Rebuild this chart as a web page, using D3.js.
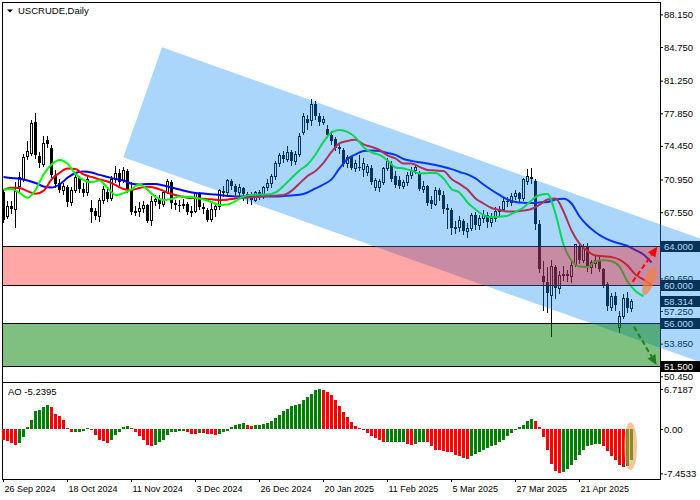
<!DOCTYPE html>
<html><head><meta charset="utf-8">
<script src="https://cdn.jsdelivr.net/npm/d3@7"></script>
<style>html,body{margin:0;padding:0;background:#fff;overflow:hidden}svg{display:block}</style>
</head><body>
<svg id="c" width="700" height="500"></svg>
<script>
// ---------- DATA ----------
const title = "USCRUDE,Daily";
const aoTitle = "AO -5.2395";
// daily candles [open, high, low, close], bar 0 = 26 Sep 2024
const candles = [
[69.60,69.90,66.50,66.70],[67.10,68.70,66.90,68.20],[68.20,68.70,67.50,67.90],[67.90,70.70,66.00,69.80],[70.30,71.70,69.60,71.20],
[71.00,73.60,70.80,73.30],[73.40,75.00,73.10,73.90],[73.70,77.20,73.50,76.80],[76.90,77.90,73.20,73.50],[73.40,73.80,72.30,72.70],
[72.60,75.45,72.40,74.75],[75.10,75.45,74.30,74.70],[74.20,74.50,71.20,71.40],[71.40,71.90,70.20,70.50],[70.60,71.00,69.70,69.90],
[69.90,70.60,69.40,70.30],[70.20,70.40,68.20,68.60],[68.60,70.20,68.30,69.90],[69.90,71.50,69.60,71.20],[71.10,71.30,69.60,70.00],
[70.00,70.60,69.20,69.50],[69.60,71.40,69.30,71.00],[68.00,68.80,66.50,67.60],[67.70,68.00,66.80,67.10],[67.20,69.00,66.60,68.80],
[68.80,70.30,68.50,70.00],[69.60,70.20,68.70,68.90],[69.00,71.30,68.80,71.00],[71.00,72.40,70.70,71.60],[71.60,72.00,70.20,70.70],
[70.90,72.30,70.70,71.90],[71.80,72.00,69.70,69.90],[69.90,70.70,67.40,67.60],[67.60,68.20,67.30,67.70],[67.70,68.60,67.10,68.00],
[68.00,68.70,67.60,68.25],[68.30,68.45,66.50,66.60],[66.70,69.20,66.20,68.70],[68.70,69.30,68.30,68.95],[68.90,69.30,68.00,68.40],
[68.40,69.80,68.20,69.65],[69.70,71.00,69.50,70.80],[70.70,70.90,68.00,68.50],[68.50,68.80,67.90,68.30],[68.30,68.80,67.70,68.25],
[68.30,68.90,68.00,68.45],[68.40,68.60,67.40,67.55],[67.60,68.20,67.20,67.65],[67.70,69.70,67.60,69.50],[69.50,69.70,67.90,68.10],
[68.10,68.50,67.50,67.85],[67.80,68.00,66.60,66.75],[66.80,68.50,66.60,67.90],[67.90,68.50,67.20,68.15],[68.20,70.00,67.90,69.85],
[69.80,70.30,69.20,69.55],[69.60,71.00,69.40,70.85],[70.80,71.00,70.00,70.25],[70.30,70.50,69.30,69.65],[69.60,70.50,69.30,70.15],
[70.10,70.20,68.80,69.45],[69.40,69.60,68.50,69.00],[69.00,69.60,68.40,68.80],[68.80,69.80,68.70,69.65],[69.60,69.90,68.90,69.20],
[69.20,70.30,69.00,70.15],[70.20,71.00,69.90,70.55],[70.60,71.50,70.20,71.30],[71.30,72.90,71.00,72.70],[72.70,73.70,72.40,73.50],
[73.50,73.90,72.80,73.10],[73.10,74.40,72.90,73.80],[73.80,74.00,72.50,72.90],[72.90,73.90,72.60,73.60],[73.60,75.80,73.40,75.50],
[75.90,77.90,75.70,77.60],[77.30,77.70,76.20,76.80],[77.10,79.30,76.60,78.85],[78.85,79.10,77.30,77.60],[77.60,77.90,76.60,76.90],
[76.90,77.60,76.70,77.30],[76.20,76.60,75.40,75.55],[75.60,76.00,74.60,75.00],[75.20,75.40,74.00,74.20],[74.20,74.70,73.70,74.30],
[74.00,74.20,72.40,72.60],[72.70,73.50,72.30,73.30],[73.30,73.40,72.00,72.20],[72.20,73.00,71.80,72.70],[72.30,73.50,71.90,72.10],
[72.00,73.20,71.30,72.70],[71.75,72.60,71.40,72.40],[72.20,72.50,70.50,70.70],[70.15,71.10,69.90,70.85],[70.20,71.00,69.80,70.80],
[70.70,72.30,70.50,72.10],[72.10,73.20,71.90,72.90],[72.60,72.90,70.80,71.00],[71.35,71.80,70.20,70.35],[70.90,71.30,70.10,70.30],
[70.30,70.90,70.10,70.70],[70.70,71.70,70.40,71.40],[71.40,72.30,71.10,71.90],[71.90,72.60,71.60,72.30],[71.60,71.80,69.90,70.00],
[70.00,70.80,69.60,70.30],[70.30,70.40,68.30,68.50],[68.80,69.20,68.00,68.40],[68.40,70.20,68.30,69.90],[69.90,70.10,68.80,69.30],
[69.35,69.75,67.45,67.90],[67.95,68.35,65.85,67.80],[67.80,68.00,65.30,65.90],[65.90,66.60,65.40,66.00],[66.00,67.10,65.60,66.70],
[66.60,66.80,65.30,65.60],[65.60,66.40,65.00,65.90],[65.90,67.50,65.70,67.30],[67.30,67.60,65.80,66.20],[66.20,67.30,65.80,66.90],
[66.90,67.80,66.50,67.30],[67.30,67.60,66.00,66.50],[66.50,67.50,66.10,66.90],[66.90,68.10,66.60,67.70],[67.70,68.20,67.30,67.90],
[67.90,69.00,67.80,68.70],[68.70,69.10,68.20,68.60],[68.60,69.50,68.30,69.20],[69.20,69.90,68.90,69.50],[69.50,69.70,68.70,68.95],
[69.00,71.10,68.80,71.00],[70.80,72.00,70.50,71.30],[71.20,72.10,70.60,71.00],[70.80,71.00,65.80,66.30],[66.30,66.70,61.30,61.60],
[60.90,62.50,57.40,60.25],[60.30,61.80,57.20,59.10],[58.90,62.60,54.70,61.90],[61.80,62.00,58.60,59.60],[59.60,61.40,59.10,61.05],
[61.10,61.90,60.50,61.10],[61.10,61.50,60.40,60.90],[60.90,62.50,60.30,62.00],[62.10,64.20,61.90,64.20],[63.90,64.30,62.30,62.60],
[62.60,64.20,62.40,63.85],[63.90,64.30,61.40,61.80],[61.80,62.60,61.20,62.35],[62.30,63.00,61.80,62.55],[62.60,62.90,61.40,61.60],
[61.60,61.70,59.80,59.95],[60.10,60.30,57.40,57.75],[57.70,59.10,57.40,58.80],[58.80,59.20,57.40,57.85],[55.60,57.30,55.10,56.70],
[56.70,59.00,56.50,58.65],[58.60,59.20,57.10,57.60],[57.60,58.50,57.30,58.31]
];
// Alligator lines, one value every 2 bars (bar 0, 2, 4, ...)
const jaw = [71.22,71.11,71.03,70.85,70.59,70.23,70.12,70.43,71.13,71.63,71.79,71.69,71.43,71.22,71.01,70.85,70.51,70.43,70.49,70.49,
70.33,70.12,69.91,69.70,69.55,69.50,69.41,69.34,69.24,69.18,69.18,69.18,69.18,69.18,69.18,69.24,69.29,69.36,69.60,70.02,
70.43,70.96,72.10,73.09,73.56,73.93,73.98,73.93,73.72,73.51,73.09,72.89,72.75,72.62,72.47,72.26,72.03,71.74,71.48,71.06,
70.43,69.86,69.34,68.87,68.61,68.53,68.51,68.56,68.61,68.87,68.94,68.45,67.10,66.16,65.46,64.91,64.54,64.28,64.02,63.60,
63.13,62.30];
const teeth = [69.86,70.09,70.07,69.74,69.46,69.76,70.96,71.63,72.10,72.05,71.48,71.22,70.96,70.75,70.38,69.97,69.86,70.07,70.20,70.07,
69.76,69.44,69.24,69.06,69.02,68.95,68.89,68.80,68.85,68.96,69.04,69.10,69.16,69.24,69.27,69.34,69.76,70.54,71.32,71.84,
72.68,73.82,74.71,74.97,75.08,74.61,74.35,74.03,73.46,73.15,72.62,72.62,72.26,71.95,71.89,71.84,71.01,70.49,69.91,68.97,
68.45,67.98,67.78,67.62,67.62,67.72,67.88,68.30,68.87,68.97,67.62,65.64,64.28,63.50,63.03,62.96,62.87,62.61,61.99,61.05,
60.53,59.95];
const lips = [69.91,69.97,69.55,69.05,69.86,71.48,72.52,72.99,72.59,71.53,70.90,70.67,70.85,70.09,69.34,69.50,69.93,70.46,69.88,69.13,
68.82,68.92,69.18,69.13,69.06,68.87,68.61,68.30,68.35,68.71,69.18,69.34,69.39,69.39,69.60,70.28,71.11,71.89,72.52,73.56,
74.87,75.86,76.12,75.91,75.34,74.32,73.77,73.51,72.94,72.21,72.10,71.89,71.58,71.61,71.63,71.06,69.97,69.60,68.56,67.83,
67.25,67.02,67.07,67.18,67.57,68.04,68.77,69.34,69.44,67.38,64.18,62.51,61.88,61.83,62.44,62.53,62.43,61.88,60.32,59.33,
58.79];
// Awesome Oscillator, one value per bar
const ao = [-1.92,-2.07,-2.35,-2.74,-2.35,-1.34,0.28,1.57,2.97,3.25,
3.70,3.98,3.64,2.58,2.24,1.46,0.17,-0.56,-0.50,-0.45,
-0.39,0.17,-0.11,-1.01,-1.79,-2.07,-2.35,-1.79,-0.95,-0.45,
0.34,0.56,0.17,-0.56,-1.23,-1.90,-2.63,-2.91,-2.63,-2.24,
-1.79,-1.01,-0.50,-0.45,-0.42,-0.39,-0.56,-0.84,-0.86,-0.67,
-0.73,-0.84,-0.86,-1.00,-0.90,-0.56,-0.28,0.28,0.73,0.90,
0.93,0.67,0.56,0.62,0.67,0.78,1.01,1.29,1.85,2.41,
2.97,3.42,3.92,3.95,4.20,4.82,5.38,5.94,6.55,6.72,
6.61,6.22,5.71,4.93,3.92,2.86,2.02,1.18,0.45,0.11,
-0.22,-0.67,-1.12,-1.51,-1.90,-2.24,-2.22,-2.20,-2.18,-2.16,
-2.14,-2.45,-2.69,-2.46,-2.13,-2.11,-2.24,-2.80,-3.47,-3.59,
-3.70,-3.87,-3.89,-4.31,-4.48,-4.87,-4.99,-4.59,-4.15,-3.92,
-3.59,-3.25,-2.91,-2.69,-2.24,-1.79,-1.23,-0.67,-0.22,0.28,
0.73,1.29,1.74,1.29,0.34,-1.34,-3.59,-5.83,-7.10,-7.45,
-7.30,-6.72,-5.99,-5.26,-4.31,-3.47,-2.91,-2.63,-2.60,-2.58,
-2.91,-3.76,-4.59,-5.15,-5.99,-6.39,-6.20,-5.24];
const dateTickBars = [0,16,32,48,64,80,96,112,128,144];
const dateTickLabels = ["26 Sep 2024","18 Oct 2024","11 Nov 2024","3 Dec 2024","26 Dec 2024","20 Jan 2025","11 Feb 2025","5 Mar 2025","27 Mar 2025","21 Apr 2025"];
const priceTicks = [88.15,84.75,81.25,77.85,74.45,70.95,67.55,60.65,57.25,53.85,50.45];
const aoTicks = [6.7187,0,-7.4533];
const aoTickLabels = ["6.7187","0.00","-7.4533"];
const resistanceZone = [64.0,60.0];
const supportZone = [56.0,51.5];
const tagPrices = [64.0,60.0,58.314,56.0,51.5];
const tagLabels = ["64.000","60.000","58.314","56.000","51.500"];
// descending channel corners [bar, price]
const channel = [[39.75,84.72],[190,62.47],[190,49.60],[30.08,73.28]];
const upArrow = [[157.4,60.30],[163.6,63.95]];
const downArrow = [[157.75,55.61],[163.4,51.63]];
const focusPrice = [161.6,60.38];
const focusAO = [156.75,-2.9];

// ---------- DRAW ----------
const FONT = "Liberation Sans, Arial, sans-serif";
const svg = d3.select("#c");
const plotL = 2, plotR = 660, mainT = 2, mainB = 380, aoT = 382, aoB = 479;
const x = d3.scaleLinear().domain([0,1]).range([3,7]);
const y = d3.scaleLinear().domain([50.45,88.15]).range([376.3,14.4]);
const ya = d3.scaleLinear().domain([-7.4533,6.7187]).range([473.3,389]);

svg.append("rect").attr("width",700).attr("height",500).attr("fill","#fff");
const defs = svg.append("defs");
defs.append("clipPath").attr("id","cm").append("rect")
  .attr("x",plotL+1).attr("y",mainT+1).attr("width",plotR-plotL-1).attr("height",mainB-mainT-1);

// candles
const gC = svg.append("g").attr("clip-path","url(#cm)").attr("shape-rendering","crispEdges");
const R = v => Math.round(v);
gC.selectAll("line.w").data(candles).join("line")
  .attr("x1",(d,i)=>x(i)+0.5).attr("x2",(d,i)=>x(i)+0.5)
  .attr("y1",d=>R(y(d[1]))).attr("y2",d=>R(y(d[2]))+1)
  .attr("stroke","#000").attr("stroke-width",1);
gC.selectAll("rect.b").data(candles).join("rect")
  .attr("x",(d,i)=> d[3]>=d[0] ? x(i)-0.5 : x(i)-1)
  .attr("y",d=> d[3]>=d[0] ? R(y(d[3]))+0.5 : R(y(d[0])))
  .attr("width",d=> d[3]>=d[0] ? 2 : 3)
  .attr("height",d=> d[3]>=d[0] ? Math.max(1,R(y(d[0]))-R(y(d[3]))) : Math.max(1,R(y(d[3]))-R(y(d[0]))))
  .attr("fill",d=> d[3]>=d[0] ? "#fff" : "#000")
  .attr("stroke",d=> d[3]>=d[0] ? "#000" : "none").attr("stroke-width",1);

// alligator
const gL = svg.append("g").attr("clip-path","url(#cm)");
const lg = d3.line().x((d,k)=>x(2*k)+0.5).y(d=>y(d)).curve(d3.curveMonotoneX);
[[jaw,"#0000ff"],[teeth,"#ff0000"],[lips,"#00ff00"]].forEach(([s,c])=>{
  gL.append("path").attr("d",lg(s)).attr("fill","none").attr("stroke",c).attr("stroke-width",2);
});

// frame
const gF = svg.append("g").attr("stroke","#000").attr("stroke-width",1).attr("shape-rendering","crispEdges");
gF.append("line").attr("x1",plotL).attr("x2",plotR).attr("y1",mainT+0.5).attr("y2",mainT+0.5);
gF.append("line").attr("x1",plotL+0.5).attr("x2",plotL+0.5).attr("y1",mainT).attr("y2",aoB+1);
gF.append("line").attr("x1",plotR+0.5).attr("x2",plotR+0.5).attr("y1",mainT).attr("y2",aoB+1);
gF.append("line").attr("x1",plotL).attr("x2",plotR).attr("y1",aoT+0.5).attr("y2",aoT+0.5);
gF.append("line").attr("x1",plotL).attr("x2",plotR+1).attr("y1",aoB+0.5).attr("y2",aoB+0.5);

// price axis
const ax = svg.append("g").attr("transform",`translate(${plotR},0)`)
  .call(d3.axisRight(y).tickValues(priceTicks).tickFormat(d3.format(".3f")).tickSize(3).tickPadding(1));
ax.select(".domain").remove();
ax.selectAll("text").attr("font-family",FONT).attr("font-size","9.5px").attr("fill","#000");
ax.selectAll("line").attr("stroke","#000");

// AO axis
const aax = svg.append("g").attr("transform",`translate(${plotR},0)`)
  .call(d3.axisRight(ya).tickValues(aoTicks).tickFormat((d,k)=>aoTickLabels[k]).tickSize(3).tickPadding(1));
aax.select(".domain").remove();
aax.selectAll("text").attr("font-family",FONT).attr("font-size","9.5px").attr("fill","#000");

// date axis
const dax = svg.append("g").attr("transform",`translate(0,${aoB})`)
  .call(d3.axisBottom(x).tickValues(dateTickBars).tickFormat((d,k)=>dateTickLabels[k]).tickSize(3));
dax.select(".domain").remove();
dax.selectAll("text").attr("font-family",FONT).attr("font-size","9px").attr("fill","#000")
  .attr("text-anchor","start").attr("x",1).attr("dy",null).attr("y",12.5);

// zone borders
const zoneEdges = resistanceZone.concat(supportZone);
svg.append("g").attr("shape-rendering","crispEdges").selectAll("line").data(zoneEdges).join("line")
  .attr("x1",plotL).attr("x2",plotR).attr("y1",d=>R(y(d))+0.5).attr("y2",d=>R(y(d))+0.5)
  .attr("stroke","#000").attr("stroke-width",1);

// price tags
const gT = svg.append("g");
gT.selectAll("rect").data(tagPrices).join("rect")
  .attr("x",plotR+1).attr("y",d=>R(y(d))-5).attr("width",40).attr("height",11).attr("fill","#000");
gT.selectAll("text").data(tagPrices).join("text")
  .attr("x",plotR+4).attr("y",d=>R(y(d))+4).text((d,k)=>tagLabels[k])
  .attr("font-family",FONT).attr("font-size","9.5px").attr("fill","#fff");

// channel overlay
const chPts = channel.map(c=>[x(c[0]),y(c[1])]);
svg.append("path").attr("d",d3.line()(chPts)+"Z")
  .attr("fill","rgb(20,140,245)").attr("fill-opacity",0.36);

// zone fills
svg.append("rect").attr("x",plotL+1).attr("width",plotR-plotL-1)
  .attr("y",R(y(resistanceZone[0]))+1).attr("height",R(y(resistanceZone[1]))-R(y(resistanceZone[0]))-1)
  .attr("fill","rgb(255,0,0)").attr("fill-opacity",0.35);
svg.append("rect").attr("x",plotL+1).attr("width",plotR-plotL-1)
  .attr("y",R(y(supportZone[0]))+1).attr("height",R(y(supportZone[1]))-R(y(supportZone[0]))-1)
  .attr("fill","rgb(0,128,0)").attr("fill-opacity",0.5);

// orange focus ellipse (price)
svg.append("ellipse").attr("cx",x(focusPrice[0])).attr("cy",y(focusPrice[1]))
  .attr("rx",15).attr("ry",5)
  .attr("transform",`rotate(-68,${x(focusPrice[0])},${y(focusPrice[1])})`)
  .attr("fill","rgb(245,130,60)").attr("fill-opacity",0.7);

// arrows
function arrow(pts,color){
  const p0=[x(pts[0][0]),y(pts[0][1])], p1=[x(pts[1][0]),y(pts[1][1])];
  const dx=p1[0]-p0[0], dy=p1[1]-p0[1], L=Math.hypot(dx,dy);
  const ux=dx/L, uy=dy/L, nx=-uy, ny=ux, hl=10, hw=4.5;
  const bx=p1[0]-ux*hl, by=p1[1]-uy*hl;
  svg.append("line").attr("x1",p0[0]).attr("y1",p0[1]).attr("x2",bx).attr("y2",by)
    .attr("stroke",color).attr("stroke-width",2).attr("stroke-dasharray","5,3");
  svg.append("path").attr("d",`M${p1[0]},${p1[1]}L${bx+nx*hw},${by+ny*hw}L${bx-nx*hw},${by-ny*hw}Z`).attr("fill",color);
}
arrow(upArrow,"#ff0000");
arrow(downArrow,"#1f7f1f");

// AO bars
svg.append("g").attr("shape-rendering","crispEdges").selectAll("rect").data(ao).join("rect")
  .attr("x",(d,i)=>x(i)-1).attr("width",3)
  .attr("y",d=>Math.min(ya(d),ya(0))).attr("height",d=>Math.max(1,Math.abs(ya(d)-ya(0))))
  .attr("fill",(d,i)=> i>0 && d>ao[i-1] ? "#008000" : "#ff0000");
svg.append("ellipse").attr("cx",x(focusAO[0])+0.5).attr("cy",ya(focusAO[1]))
  .attr("rx",6.5).attr("ry",24).attr("fill","rgb(245,145,70)").attr("fill-opacity",0.55);

// titles
svg.append("path").attr("d","M7,9.5L13,9.5L10,12.5Z").attr("fill","#000");
svg.append("text").attr("x",18).attr("y",13.5).text(title)
  .attr("font-family",FONT).attr("font-size","9.5px").attr("fill","#000");
svg.append("text").attr("x",8).attr("y",395).text(aoTitle)
  .attr("font-family",FONT).attr("font-size","9.5px").attr("fill","#000");
</script>
</body></html>
